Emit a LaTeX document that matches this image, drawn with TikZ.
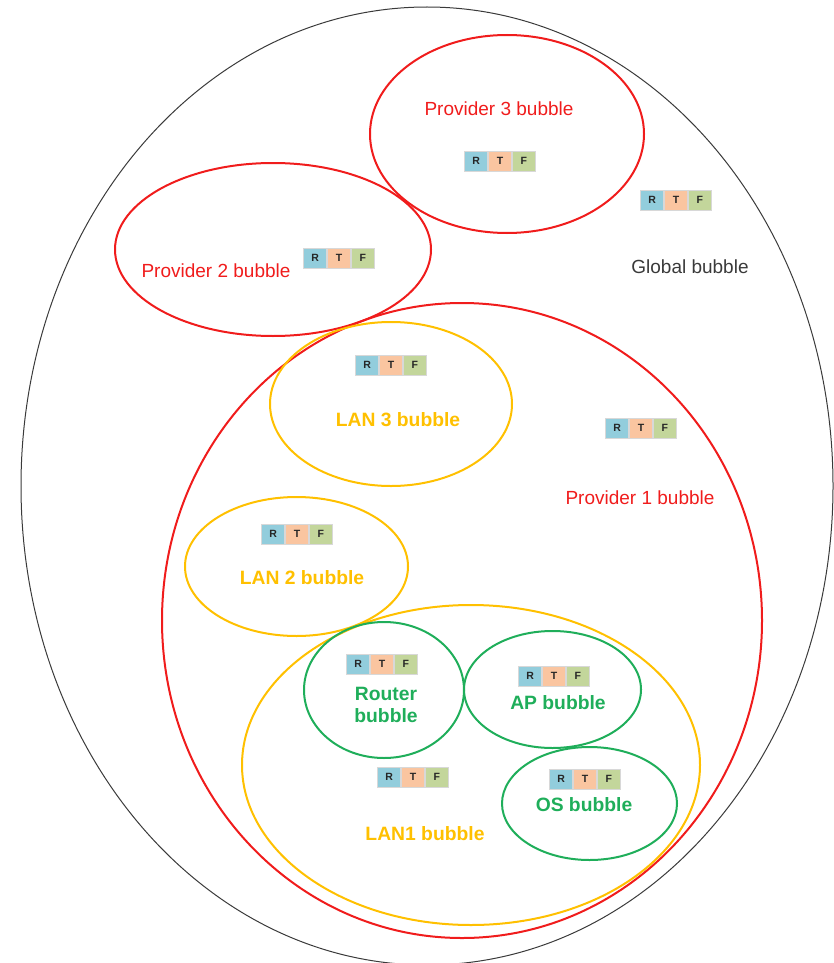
\documentclass[tikz,border=0pt]{standalone}
\usepackage{fontspec}
\setmainfont{Liberation Sans}
\usetikzlibrary{shapes.geometric,positioning}
\definecolor{cred}{HTML}{F01C1C}
\definecolor{cgold}{HTML}{FFC000}
\definecolor{cgreen}{HTML}{1FAE5A}
\definecolor{cglob}{HTML}{3A3A3A}
\definecolor{cR}{HTML}{92CDDC}
\definecolor{cT}{HTML}{FAC5A0}
\definecolor{cF}{HTML}{C3D69B}
\definecolor{cedge}{HTML}{D8D8D8}
\newcommand{\rtfbox}[2]{%
  \node[rtfcell,fill=cT] (#1T) at (#2) {T};
  \node[rtfcell,fill=cR,left=0pt of #1T] (#1R) {R};
  \node[rtfcell,fill=cF,right=0pt of #1T] (#1F) {F};
}
\begin{document}
\begin{tikzpicture}[x=1pt,y=-1pt,
  bubble/.style={ellipse,draw,inner sep=0pt,line width=2pt},
  redb/.style={bubble,draw=cred},
  goldb/.style={bubble,draw=cgold},
  greenb/.style={bubble,draw=cgreen},
  rtfcell/.style={draw=cedge,line width=0.6pt,minimum width=23.3pt,minimum height=20pt,inner sep=0pt,
     font=\fontsize{10.5}{10.5}\selectfont\bfseries,text=black!85},
  lbl/.style={font=\fontsize{19}{22}\selectfont,align=center},
  blbl/.style={font=\fontsize{19.3}{22}\selectfont\bfseries,align=center}]
\useasboundingbox (0,0) rectangle (833,963);
\node[ellipse,draw=cglob,line width=1pt,inner sep=0pt,minimum width=812pt,minimum height=958pt] (glob) at (427,486) {};
\node[redb,minimum width=274pt,minimum height=198pt] (p3) at (507,134) {};
\node[redb,minimum width=316pt,minimum height=173pt] (p2) at (273,249.5) {};
\node[redb,minimum width=600pt,minimum height=635pt] (p1) at (462,620.5) {};
\node[goldb,minimum width=242pt,minimum height=164pt] (l3) at (391,404) {};
\node[goldb,minimum width=223pt,minimum height=139pt] (l2) at (296.5,566.5) {};
\node[goldb,minimum width=458pt,minimum height=320pt] (l1) at (471,765) {};
\node[greenb,minimum width=160pt,minimum height=136pt] (rt) at (384,690) {};
\node[greenb,minimum width=177pt,minimum height=117pt] (ap) at (552.5,689.5) {};
\node[greenb,minimum width=175pt,minimum height=113pt] (os) at (589.5,803.5) {};
\rtfbox{a}{500,161}
\rtfbox{b}{676,200}
\rtfbox{c}{339,258}
\rtfbox{d}{391,365}
\rtfbox{e}{641,428}
\rtfbox{f}{297,534}
\rtfbox{g}{382,664}
\rtfbox{h}{554,676}
\rtfbox{i}{413,777}
\rtfbox{j}{585,779}
\node[lbl,text=cred] (tp3) at (499,109) {Provider 3 bubble};
\node[lbl,text=cglob] (tgl) at (690,267) {Global bubble};
\node[lbl,text=cred] (tp2) at (216,271) {Provider 2 bubble};
\node[lbl,text=cred] (tp1) at (640,498) {Provider 1 bubble};
\node[blbl,text=cgold] (tl3) at (398,420) {LAN 3 bubble};
\node[blbl,text=cgold] (tl2) at (302,578) {LAN 2 bubble};
\node[blbl,text=cgold] (tl1) at (425,834) {LAN1 bubble};
\node[blbl,text=cgreen] (trt) at (386,705) {Router\\bubble};
\node[blbl,text=cgreen] (tap) at (558,703) {AP bubble};
\node[blbl,text=cgreen] (tos) at (584,805) {OS bubble};
\end{tikzpicture}
\end{document}
